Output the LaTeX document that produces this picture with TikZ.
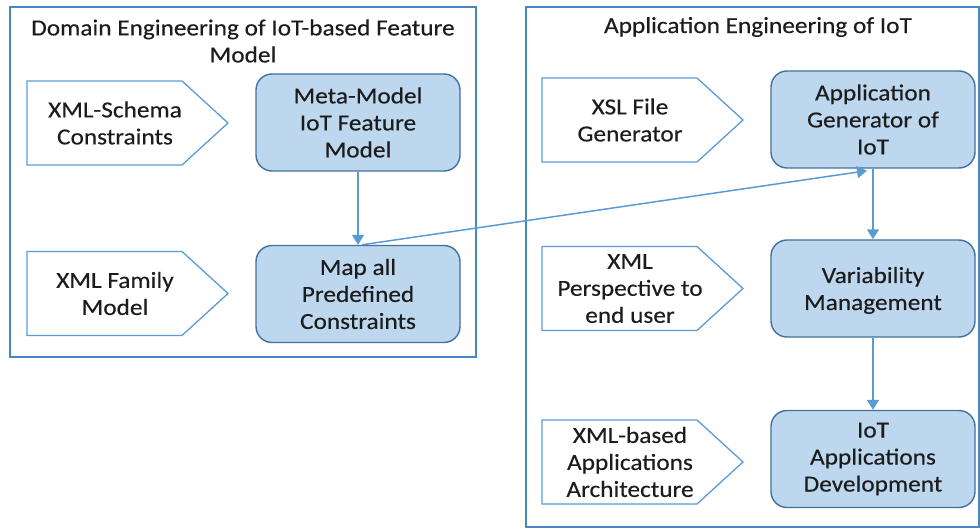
\documentclass[tikz,border=0pt]{standalone}
\usepackage{fontspec}
\setmainfont{Carlito}[FakeStretch=1.1,FakeBold=0.3]
\usetikzlibrary{arrows.meta,calc}
\definecolor{boxfill}{HTML}{BDD7EE}
\definecolor{boxline}{HTML}{41719C}
\definecolor{lightline}{HTML}{5B9BD5}
\definecolor{frameline}{HTML}{4A86C0}
\definecolor{txt}{HTML}{1C1C1C}
\newcommand\pentagonshape[1]{\draw[pentline] ($(#1.center)+(-88,-42)$) -- ++(155,0) -- ++(46,42) -- ++(-46,42) -- ++(-155,0) -- cycle;}
\begin{document}
\begin{tikzpicture}[x=1pt,y=-1pt,
 every node/.style={font=\fontsize{23}{27}\selectfont, text=txt, align=center, inner sep=0pt},
 bluebox/.style={draw=boxline, fill=boxfill, line width=1.4pt, rounded corners=16pt, minimum width=204pt, minimum height=97pt},
 pentline/.style={draw=lightline, line width=1.3pt},
 frame/.style={draw=frameline, line width=1.6pt},
 flow/.style={draw=lightline, line width=1.5pt, -{Triangle[width=12pt,length=10pt]}},
]
\useasboundingbox (0,0) rectangle (980,529);
% containers
\draw[frame] (10,7) rectangle (476,357);
\draw[frame] (526,7) rectangle (979,527);
\node (tleft) at (243,41) {Domain Engineering of IoT-based Feature\\Model};
\node (tright) at (758,27) {Application Engineering of IoT};
% pentagons
\node (xs) at (115,123) {XML-Schema\\Constraints};
\node (xf) at (115,293.5) {XML Family\\Model};
\node (xsl) at (630,120) {XSL File\\Generator};
\node (xp) at (630,288.5) {XML\\Perspective to\\end user};
\node (xb) at (630,462) {XML-based\\Applications\\Architecture};
\foreach \n in {xs,xf,xsl,xp,xb} {\pentagonshape{\n}}
% blue boxes
\node[bluebox] (meta) at (358,122.5) {Meta-Model\\IoT Feature\\Model};
\node[bluebox] (map) at (358,294) {Map all\\Predefined\\Constraints};
\node[bluebox] (appgen) at (873,119.5) {Application\\Generator of\\IoT};
\node[bluebox, text depth=0pt] (var) at (873,288.5) {Variability\\Management};
\node[bluebox] (iotdev) at (873,459) {IoT\\Applications\\Development};
% arrows
\draw[flow] (meta.south) -- (map.north);
\draw[flow] (appgen.south) -- (var.north);
\draw[flow] (var.south) -- (iotdev.north);
\draw[flow] ($(map.north)+(4,0)$) -- ($(appgen.south)+(-6,2)$);
\end{tikzpicture}
\end{document}
